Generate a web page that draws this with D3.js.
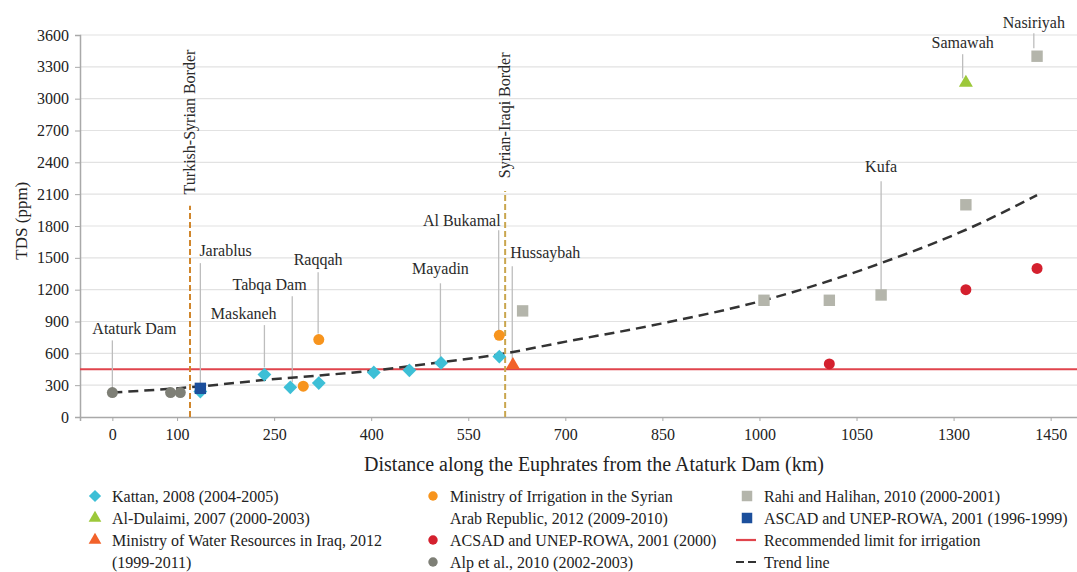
<!DOCTYPE html>
<html>
<head>
<meta charset="utf-8">
<title>TDS along the Euphrates</title>
<script src="https://d3js.org/d3.v7.min.js"></script>
<style>
  body { margin: 0; background: #fff; }
  svg { display: block; font-family: "Liberation Serif", "Times New Roman", serif; }
</style>
</head>
<body>
<svg id="chart" width="1077" height="572"></svg>
<script>
// ---- data (km along river, TDS ppm) ----
const xTickValues = [0, 100, 250, 400, 550, 700, 850, 1000, 1150, 1300, 1450];
const xTickLabels = ["0", "100", "250", "400", "550", "700", "850", "1000", "1050", "1300", "1450"];
const yTickValues = [0, 300, 600, 900, 1200, 1500, 1800, 2100, 2400, 2700, 3000, 3300, 3600];

const kattan = [[136, 240], [235, 400], [275, 280], [319, 320], [404, 420], [459, 440], [508, 510], [598, 570]];
const alDulaimi = [[1319, 3150]];
const mowrIraq = [[619, 490]];
const moiSyria = [[295, 290], [319, 730], [598, 770]];
const acsad2000 = [[1108, 500], [1319, 1200], [1429, 1400]];
const alp = [[0, 230], [90, 230], [105, 230]];
const rahi = [[634, 1000], [1007, 1100], [1108, 1100], [1188, 1150], [1319, 2000], [1429, 3400]];
const ascad = [[136, 270]];
const irrigationLimit = 450;
const trend = [[0, 230], [120, 280], [237, 350], [404, 438], [507, 515], [598, 590], [692, 700],
               [848, 880], [1007, 1100], [1190, 1455], [1320, 1767], [1429, 2090]];

// place names: [name, text km, text ppm, leader km, leader top, leader bottom]
const places = [
  ["Ataturk Dam", 34, 835, 0, 722, 252],
  ["Jarablus", 175, 1571, 136, 1450, 300],
  ["Maskaneh", 203, 977, 235, 866, 468],
  ["Tabqa Dam", 243, 1250, 278, 1137, 327],
  ["Raqqah", 318, 1486, 318, 1363, 788],
  ["Mayadin", 507, 1402, 507, 1260, 533],
  ["Al Bukamal", 540, 1853, 597, 1759, 798],
  ["Hussaybah", 669, 1552, 618, 1420, 515],
  ["Kufa", 1188, 2363, 1188, 2222, 1185],
  ["Samawah", 1314, 3532, 1314, 3419, 3192],
  ["Nasiriyah", 1424, 3720, 1424, 3616, 3475]
];
// borders: [name, km, top ppm, label ppm, colour]
const borders = [
  ["Turkish-Syrian Border", 120, 1990, 2780, "#d0862c"],
  ["Syrian-Iraqi Border", 607, 2130, 2843, "#c9a64e"]
];

const legendCols = [
  [["diamond", "#3dbfd6", ["Kattan, 2008 (2004-2005)"]],
   ["triangle", "#9cc83a", ["Al-Dulaimi, 2007 (2000-2003)"]],
   ["triangle", "#f2622a", ["Ministry of Water Resources in Iraq, 2012", "(1999-2011)"]]],
  [["circle", "#f7941d", ["Ministry of Irrigation in the Syrian", "Arab Republic, 2012 (2009-2010)"]],
   ["circle", "#d4202e", ["ACSAD and UNEP-ROWA, 2001 (2000)"]],
   ["circle", "#7e7f76", ["Alp et al., 2010 (2002-2003)"]]],
  [["square", "#b4b5ab", ["Rahi and Halihan, 2010 (2000-2001)"]],
   ["square", "#1c4f9c", ["ASCAD and UNEP-ROWA, 2001 (1996-1999)"]],
   ["line", "#e0444c", ["Recommended limit for irrigation"]],
   ["dash", "#333", ["Trend line"]]]
];

// ---- layout ----
const svg = d3.select("#chart");
const LEFT = 80, RIGHT = 1083, TOP = 35, BOTTOM = 417;

const x = d3.scaleLinear().domain([-50, 1500]).range([LEFT, RIGHT]);
const y = d3.scaleLinear().domain([0, 3600]).range([BOTTOM, TOP]);

// grid
svg.append("g").selectAll("line")
  .data(yTickValues.filter(d => d > 0))
  .join("line")
  .attr("x1", LEFT).attr("x2", RIGHT)
  .attr("y1", d => y(d)).attr("y2", d => y(d))
  .attr("stroke", "#e2e2e2").attr("stroke-width", 1.2);

// axes
const yAxis = svg.append("g")
  .attr("transform", `translate(${LEFT},0)`)
  .call(d3.axisLeft(y).tickValues(yTickValues).tickSize(5).tickPadding(6).tickFormat(d3.format("d")));
const xAxis = svg.append("g")
  .attr("transform", `translate(0,${BOTTOM})`)
  .call(d3.axisBottom(x).tickValues(xTickValues).tickSize(4).tickPadding(8)
        .tickFormat((d, i) => xTickLabels[i]));
[xAxis, yAxis].forEach(g => {
  g.select(".domain").attr("stroke", "#a9a9a9").attr("stroke-width", 1.5);
  g.selectAll(".tick line").attr("stroke", "#a9a9a9");
  g.selectAll(".tick text").attr("fill", "#222").style("font-size", "16px")
    .style("font-family", "Liberation Serif, serif");
});

svg.append("text")
  .attr("x", (365 + 823) / 2).attr("y", 471)
  .attr("text-anchor", "middle").attr("fill", "#222").style("font-size", "20px")
  .text("Distance along the Euphrates from the Ataturk Dam (km)");
svg.append("text")
  .attr("transform", `translate(27,${y(1850)}) rotate(-90)`)
  .attr("text-anchor", "middle").attr("fill", "#222").style("font-size", "17px")
  .text("TDS (ppm)");

// irrigation limit
svg.append("line")
  .attr("x1", LEFT).attr("x2", RIGHT)
  .attr("y1", y(irrigationLimit)).attr("y2", y(irrigationLimit))
  .attr("stroke", "#e0444c").attr("stroke-width", 2);

// borders
borders.forEach(([name, km, top, lab, col]) => {
  svg.append("line")
    .attr("x1", x(km)).attr("x2", x(km)).attr("y1", y(0)).attr("y2", y(top))
    .attr("stroke", col).attr("stroke-width", 2).attr("stroke-dasharray", "6,3");
  svg.append("text")
    .attr("transform", `translate(${x(km) + 5},${y(lab)}) rotate(-90)`)
    .attr("text-anchor", "middle").attr("fill", "#2a2a2a").style("font-size", "16px")
    .text(name);
});

// place labels
places.forEach(([name, tk, tv, lk, l1, l2]) => {
  svg.append("line")
    .attr("x1", x(lk)).attr("x2", x(lk)).attr("y1", y(l1)).attr("y2", y(l2))
    .attr("stroke", "#bdbdbd").attr("stroke-width", 1.3);
  svg.append("text")
    .attr("x", x(tk)).attr("y", y(tv)).attr("dy", "0.35em")
    .attr("text-anchor", "middle").attr("fill", "#2a2a2a").style("font-size", "16px")
    .text(name);
});

// trend line
svg.append("path")
  .datum(trend)
  .attr("fill", "none").attr("stroke", "#333").attr("stroke-width", 2.5)
  .attr("stroke-dasharray", "10,6")
  .attr("d", d3.line().x(d => x(d[0])).y(d => y(d[1])).curve(d3.curveMonotoneX));

// markers
const shapes = {
  diamond: d3.symbol().type(d3.symbolSquare).size(95),
  circle: d3.symbol().type(d3.symbolCircle).size(95),
  square: d3.symbol().type(d3.symbolSquare).size(130),
  triangle: d3.symbol().type(d3.symbolTriangle).size(85)
};
function plot(data, shape, col) {
  svg.append("g").selectAll("path")
    .data(data)
    .join("path")
    .attr("d", shapes[shape])
    .attr("transform", d => `translate(${x(d[0])},${y(d[1])})` + (shape === "diamond" ? " rotate(45)" : ""))
    .attr("fill", col);
}
plot(alp, "circle", "#7e7f76");
plot(kattan, "diamond", "#3dbfd6");
plot(ascad, "square", "#1c4f9c");
plot(moiSyria, "circle", "#f7941d");
plot(mowrIraq, "triangle", "#f2622a");
plot(rahi, "square", "#b4b5ab");
plot(acsad2000, "circle", "#d4202e");
plot(alDulaimi, "triangle", "#9cc83a");

// legend
const colX = [95, 433, 747];
const rowY = [496, 518, 540, 562];
legendCols.forEach((col, ci) => {
  let r = 0;
  col.forEach(([shape, color, lines]) => {
    const cy = rowY[r];
    const mx = colX[ci];
    if (shape === "line" || shape === "dash") {
      svg.append("line").attr("x1", mx - 11).attr("x2", mx + 9).attr("y1", cy).attr("y2", cy)
        .attr("stroke", color).attr("stroke-width", 2.2)
        .attr("stroke-dasharray", shape === "dash" ? "8,4" : null);
    } else {
      svg.append("path").attr("d", d3.symbol().type(
          shape === "circle" ? d3.symbolCircle : shape === "triangle" ? d3.symbolTriangle : d3.symbolSquare)
          .size(shape === "square" ? 110 : shape === "diamond" ? 75 : 70))
        .attr("transform", `translate(${mx},${cy})` + (shape === "diamond" ? " rotate(45)" : ""))
        .attr("fill", color);
    }
    lines.forEach((t, li) => {
      svg.append("text").attr("x", mx + 17).attr("y", rowY[r + li]).attr("dy", "0.35em")
        .attr("fill", "#222").style("font-size", "16px").text(t);
    });
    r += lines.length;
  });
});
</script>
</body>
</html>
